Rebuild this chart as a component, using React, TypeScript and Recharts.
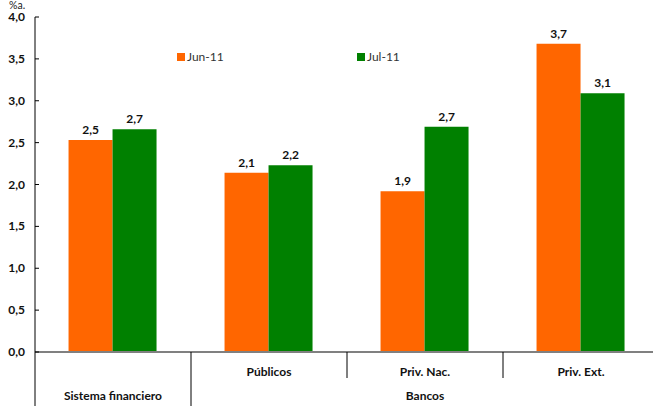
import React from "react";
import { BarChart, Bar, XAxis, YAxis, LabelList } from "recharts";

const categories = ["Sistema financiero", "Públicos", "Priv. Nac.", "Priv. Ext."];
const rowLabels = ["", "Públicos", "Priv. Nac.", "Priv. Ext."];
const groupLabels = ["Sistema financiero", "", "Bancos", ""];
const jun11 = [2.53, 2.14, 1.92, 3.68];
const jul11 = [2.66, 2.23, 2.69, 3.09];
const yTicks = [0, 0.5, 1, 1.5, 2, 2.5, 3, 3.5, 4];
const seriesNames = ["Jun-11", "Jul-11"];
const unitLabel = "%a.";

const data = categories.map((c, i) => ({ cat: c, jun: jun11[i], jul: jul11[i] }));

const CHART_W = 659;
const CHART_H = 406;
const Y_W = 35;
const PLOT_W = CHART_W - Y_W;
const HALF_BAND = PLOT_W / categories.length / 2;
const ORANGE = "#FF6600";
const GREEN = "#008000";
const FONT = "Lato, 'DejaVu Sans', sans-serif";

const fmt = (v: number) => v.toFixed(1).replace(".", ",");

const XTick = (props: any) => {
  const { x, y, index } = props;
  const left = x - HALF_BAND;
  const full = index < 2;
  return (
    <g>
      <line x1={left} x2={left} y1={y} y2={full ? y + 54 : y + 26} stroke="#000" strokeWidth={1} />
      {rowLabels[index] ? (
        <text x={x} y={y + 24} textAnchor="middle" fontFamily={FONT} fontWeight="bold" fontSize={12} fill="#111">
          {rowLabels[index]}
        </text>
      ) : null}
      {groupLabels[index] ? (
        <text x={x} y={y + 48} textAnchor="middle" fontFamily={FONT} fontWeight="bold" fontSize={12} fill="#111">
          {groupLabels[index]}
        </text>
      ) : null}
    </g>
  );
};

const YTick = (props: any) => {
  const { x, y, payload } = props;
  return (
    <g>
      <line x1={x} x2={x + 4} y1={y} y2={y} stroke="#000" strokeWidth={1} />
      <text x={x - 10} y={y + 4} textAnchor="end" fontFamily={FONT} fontWeight="bold" fontSize={12} fill="#111">
        {fmt(payload.value)}
      </text>
    </g>
  );
};

const LegendBox = () => (
  <div style={{ position: "absolute", left: 177, top: 49, display: "flex", fontFamily: FONT, fontSize: 12, color: "#333" }}>
    <div style={{ display: "flex", alignItems: "center", width: 180 }}>
      <span style={{ width: 8, height: 8, background: ORANGE, display: "inline-block", marginRight: 2 }} />
      <span>{seriesNames[0]}</span>
    </div>
    <div style={{ display: "flex", alignItems: "center" }}>
      <span style={{ width: 8, height: 8, background: GREEN, display: "inline-block", marginRight: 2 }} />
      <span>{seriesNames[1]}</span>
    </div>
  </div>
);

export default function App() {
  return (
    <div style={{ position: "fixed", left: 0, top: 0, width: 653, height: 406, overflow: "hidden", background: "#fff" }}>
      <div style={{ position: "absolute", left: 9, top: 0, zIndex: 2, fontFamily: FONT, fontSize: 10.5, lineHeight: "10px", color: "#222" }}>{unitLabel}</div>
      <LegendBox />
      <BarChart
        width={CHART_W}
        height={CHART_H}
        data={data}
        margin={{ top: 17, right: 0, bottom: 0, left: 0 }}
        barCategoryGap="21.5%"
        barGap={0}
      >
        <XAxis
          dataKey="cat"
          height={54}
          interval={0}
          tickLine={false}
          tickSize={0}
          tickMargin={0}
          tick={<XTick />}
          axisLine={{ stroke: "#808080", strokeWidth: 2 }}
        />
        <YAxis
          width={Y_W}
          domain={[0, 4]}
          ticks={yTicks}
          interval={0}
          tickLine={false}
          tickSize={0}
          tickMargin={0}
          tick={<YTick />}
          axisLine={{ stroke: "#000", strokeWidth: 1 }}
        />
        <Bar dataKey="jun" name={seriesNames[0]} fill={ORANGE} isAnimationActive={false}>
          <LabelList dataKey="jun" position="top" offset={6} formatter={(v: any) => fmt(Number(v))} style={{ fontFamily: FONT, fontWeight: "bold", fontSize: 12, fill: "#111" }} />
        </Bar>
        <Bar dataKey="jul" name={seriesNames[1]} fill={GREEN} isAnimationActive={false}>
          <LabelList dataKey="jul" position="top" offset={6} formatter={(v: any) => fmt(Number(v))} style={{ fontFamily: FONT, fontWeight: "bold", fontSize: 12, fill: "#111" }} />
        </Bar>
      </BarChart>
    </div>
  );
}
